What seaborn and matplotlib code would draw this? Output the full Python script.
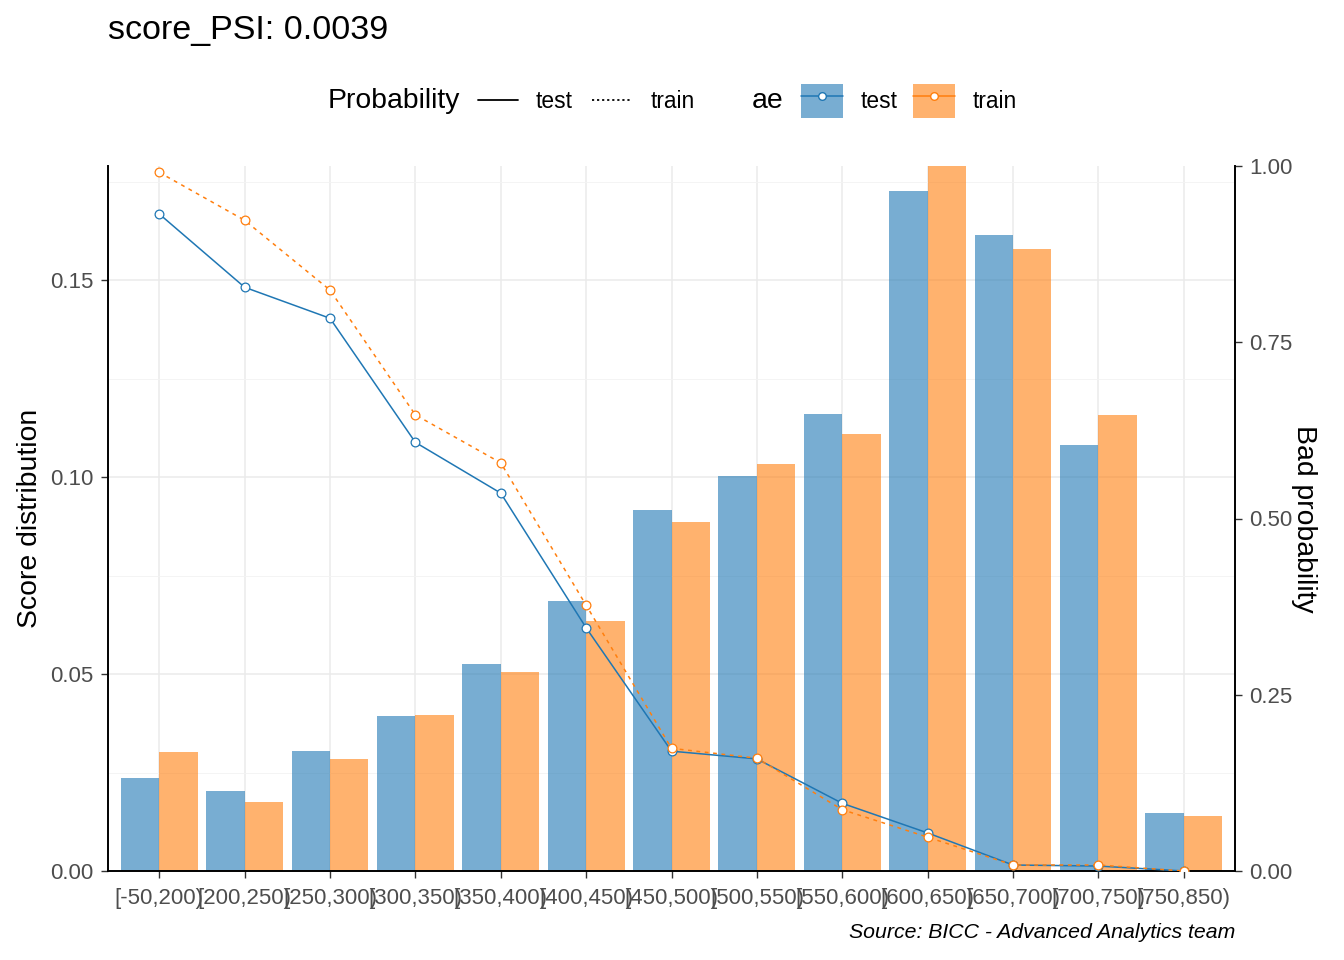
import matplotlib

matplotlib.use('Agg')

import matplotlib.pyplot as plt
import numpy as np
import pandas as pd
import seaborn as sns
from matplotlib.lines import Line2D
from matplotlib.patches import Patch
from matplotlib.ticker import MultipleLocator, FormatStrFormatter

# score bins and values
bins = ['[-50,200)', '[200,250)', '[250,300)', '[300,350)', '[350,400)',
        '[400,450)', '[450,500)', '[500,550)', '[550,600)', '[600,650)',
        '[650,700)', '[700,750)', '[750,850)']
sets = ['test', 'train']

dist_test = [0.0236, 0.0203, 0.0305, 0.0393, 0.0525, 0.0685, 0.0916,
             0.1003, 0.1160, 0.1726, 0.1614, 0.1081, 0.0147]
dist_train = [0.0302, 0.0175, 0.0284, 0.0396, 0.0505, 0.0635, 0.0886,
              0.1033, 0.1109, 0.1789, 0.1579, 0.1157, 0.0140]

prob_test = [0.932, 0.828, 0.784, 0.608, 0.536, 0.345, 0.170,
             0.159, 0.096, 0.054, 0.0085, 0.007, 0.0]
prob_train = [0.991, 0.923, 0.824, 0.647, 0.579, 0.377, 0.174,
              0.160, 0.087, 0.048, 0.0085, 0.0085, 0.0]

psi_title = 'score_PSI: 0.0039'
caption = 'Source: BICC - Advanced Analytics team'

colors = {'test': '#1f77b4', 'train': '#ff7f0e'}
dash_styles = {'test': '-', 'train': (0, (2.5, 3.0))}
key_styles = {'test': '-', 'train': (0, (1.2, 1.6))}

sns.set_theme(style='white')
plt.rcParams['font.family'] = ['Liberation Sans', 'DejaVu Sans']
plt.rcParams['text.color'] = 'black'
plt.rcParams['axes.labelcolor'] = 'black'

df_dist = pd.DataFrame({'bin': bins * 2,
                        'ae': ['test'] * len(bins) + ['train'] * len(bins),
                        'dist': dist_test + dist_train})
df_prob = pd.DataFrame({'bin': bins * 2,
                        'ae': ['test'] * len(bins) + ['train'] * len(bins),
                        'prob': prob_test + prob_train})

fig = plt.figure(figsize=(13.44, 9.6), dpi=100)
ax = fig.add_axes([108 / 1344, 1 - 871 / 960, (1235 - 108) / 1344, (871 - 166) / 960])
ax.set_axisbelow(True)

sns.barplot(data=df_dist, x='bin', y='dist', hue='ae', order=bins, hue_order=sets,
            palette=colors, alpha=0.6, width=0.9, saturation=1, linewidth=0,
            errorbar=None, legend=False, ax=ax)

ax2 = ax.twinx()
sns.pointplot(data=df_prob, x='bin', y='prob', hue='ae', order=bins, hue_order=sets,
              palette=colors, markers='o', dodge=False, errorbar=None,
              legend=False, ax=ax2)
for line in ax2.lines:
    c = line.get_color()
    name = 'test' if matplotlib.colors.same_color(c, colors['test']) else 'train'
    line.set_linestyle(dash_styles[name])
    line.set_linewidth(1.1)
    line.set_marker('o')
    line.set_markersize(6.3)
    line.set_markerfacecolor('white')
    line.set_markeredgecolor(colors[name])
    line.set_markeredgewidth(0.9)

ax.set_xlim(-0.6, len(bins) - 0.4)
ax.set_ylim(0, 0.179)
ax2.set_ylim(0, 1)
ax.yaxis.set_major_locator(MultipleLocator(0.05))
ax.yaxis.set_minor_locator(MultipleLocator(0.025))
ax2.yaxis.set_major_locator(MultipleLocator(0.25))
ax2.yaxis.set_major_formatter(FormatStrFormatter('%.2f'))
ax.yaxis.set_major_formatter(FormatStrFormatter('%.2f'))

ax.grid(which='major', color='#EBEBEB', linewidth=1.1)
ax.grid(which='minor', axis='y', color='#F3F3F3', linewidth=0.6)
ax2.grid(False)

for a in (ax, ax2):
    a.tick_params(which='major', length=5, width=1, color='#333333',
                  labelsize=16, labelcolor='#4D4D4D', pad=5.5)
    a.tick_params(which='minor', length=0)
    a.spines['top'].set_visible(False)
ax.spines['right'].set_visible(False)
ax2.spines['left'].set_visible(False)
ax2.spines['bottom'].set_visible(False)
for s in ('left', 'bottom'):
    ax.spines[s].set_color('black')
    ax.spines[s].set_linewidth(1.4)
ax2.spines['right'].set_color('black')
ax2.spines['right'].set_linewidth(1.4)
ax.tick_params(axis='x', bottom=True, pad=7)
ax.tick_params(axis='y', left=True)
ax2.tick_params(axis='y', right=True)

ax.set_xlabel('')
ax.set_ylabel('Score distribution', fontsize=20.4, color='black', labelpad=5)
ax2.set_ylabel('Bad probability', fontsize=20.4, color='black', rotation=270,
               labelpad=17)

fig.text(108 / 1344, 1 - 31 / 960, psi_title, fontsize=24.5, ha='left', va='center',
         color='black')
fig.text(1235 / 1344, 1 - 933 / 960, caption, fontsize=15.3, style='italic',
         ha='right', va='center', color='black')

# legends along the top
leg_y = 1 - 101 / 960
fig.text(328 / 1344, leg_y, 'Probability', fontsize=20.4, ha='left', va='center',
         color='black')
prob_handles = [Line2D([], [], color='black', lw=1.3, linestyle=key_styles[s]) for s in sets]
leg1 = fig.legend(prob_handles, sets, loc='center left', bbox_to_anchor=(478 / 1344, leg_y),
                  bbox_transform=fig.transFigure, ncol=2, frameon=False, borderpad=0,
                  borderaxespad=0, handlelength=1.75, handletextpad=0.8,
                  columnspacing=0.85, fontsize=16.4, labelcolor='black')

fig.text(752 / 1344, leg_y, 'ae', fontsize=20.4, ha='left', va='center', color='black')
ae_handles = [(Patch(facecolor=colors[s], alpha=0.6, linewidth=0),
               Line2D([], [], color=colors[s], lw=1.1, marker='o', markersize=5.5,
                      markerfacecolor='white', markeredgecolor=colors[s]))
              for s in sets]
leg2 = fig.legend(ae_handles, sets, loc='center left', bbox_to_anchor=(801 / 1344, leg_y),
                  bbox_transform=fig.transFigure, ncol=2, frameon=False, borderpad=0,
                  borderaxespad=0, handlelength=1.85, handleheight=1.9,
                  handletextpad=0.75, columnspacing=0.7, fontsize=16.4,
                  labelcolor='black')

fig.savefig('out.png', dpi=100)
